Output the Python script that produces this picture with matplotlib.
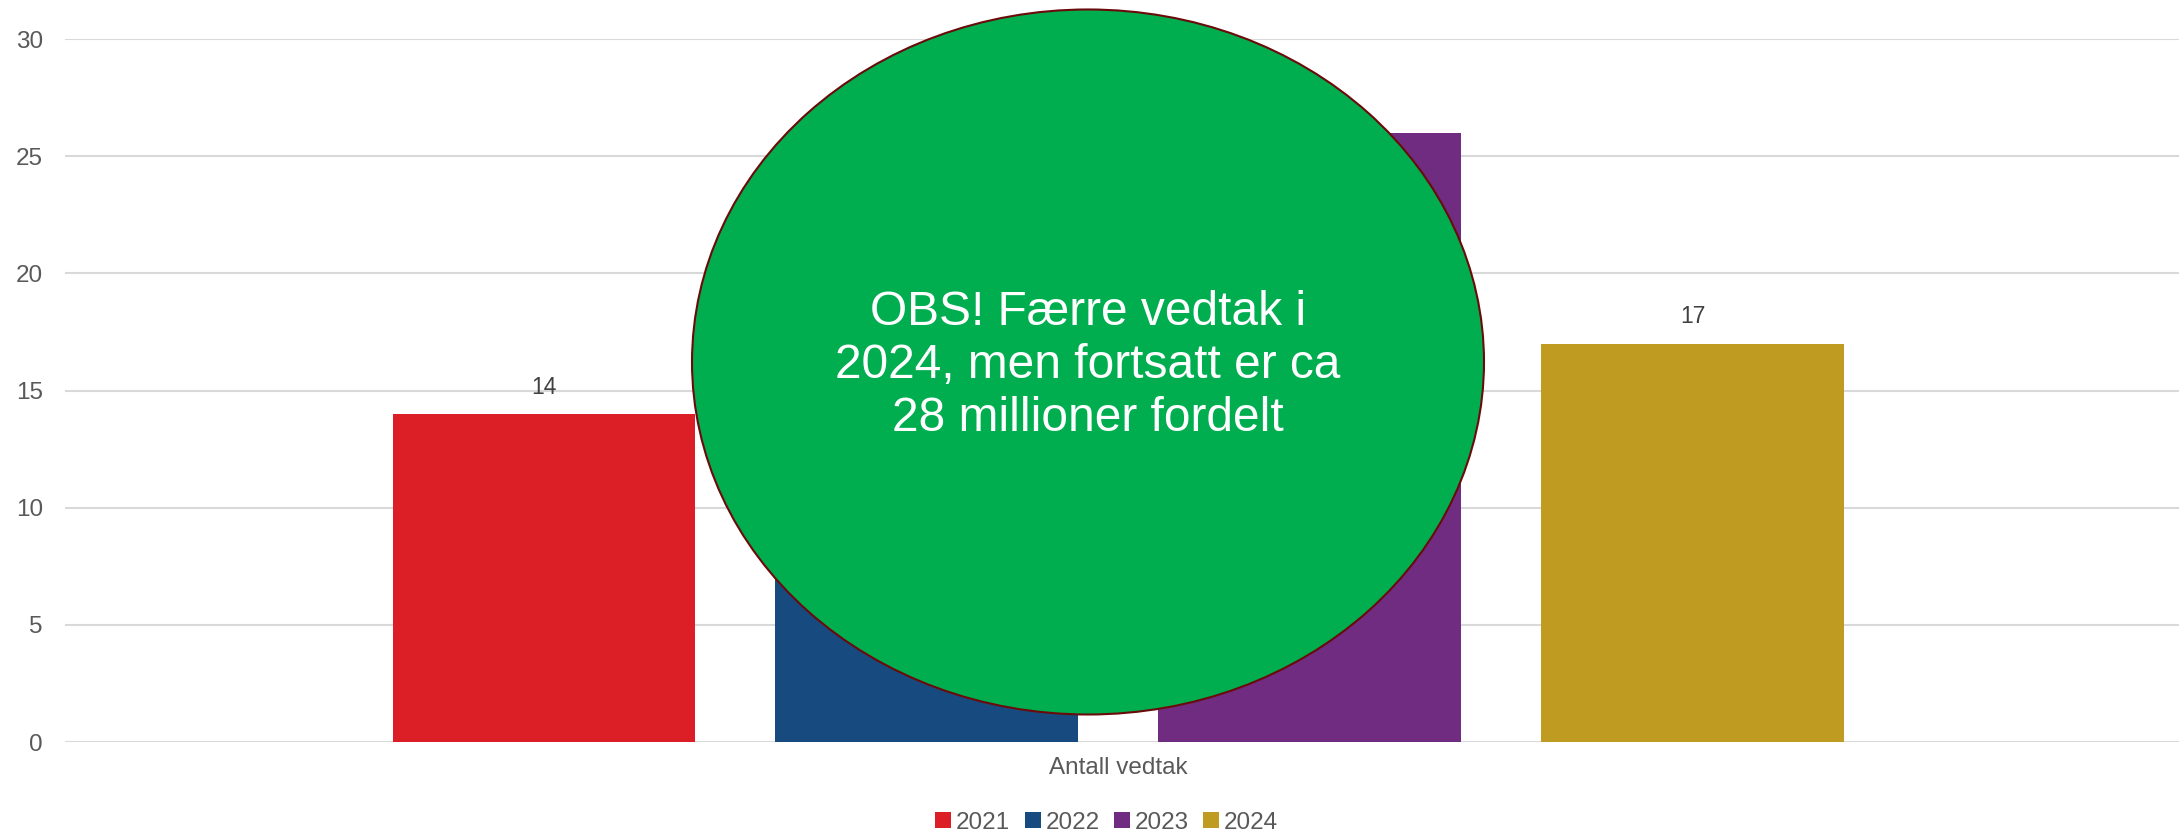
import matplotlib
matplotlib.use('Agg')
import numpy as np
from matplotlib import pyplot as plt
from matplotlib.patches import Ellipse

plt.rcParams['font.family'] = ['Liberation Sans', 'DejaVu Sans']

# data
category = 'Antall vedtak'
years = ['2021', '2022', '2023', '2024']
values = [14, 20, 26, 17]
colors = ['#DC1F26', '#174B7F', '#6F2C81', '#BF9B22']
note = 'OBS! Færre vedtak i\n2024, men fortsatt er ca\n28 millioner fordelt'

fig = plt.figure(figsize=(21.83, 8.36), dpi=100)
ax = fig.add_axes([0.0298, 0.1124, 0.9684, 0.8409])

step = 1.264
for i, (yr, v, c) in enumerate(zip(years, values, colors)):
	x = (i - 1.5) * step
	ax.bar(x, v, width=1.0, color=c, label=yr, zorder=2)
	ax.annotate(str(v), (x, v), xytext=(0, 11), textcoords='offset points',
				ha='center', va='bottom', fontsize=16.5, color='#404040')

ax.set_xlim(-3.4775, 3.5025)
ax.set_ylim(0, 30)
ax.set_yticks(np.arange(0, 31, 5))
ax.set_xticks([0])
ax.set_xticklabels([category])
ax.tick_params(axis='both', length=0, labelsize=17.5, colors='#595959', pad=11)
ax.tick_params(axis='y', pad=16)
ax.grid(axis='y', color='#D9D9D9', linewidth=1.5, zorder=0)
for s in ax.spines.values():
	s.set_visible(False)

# green callout on top
ell = Ellipse((0.4984, 0.567), 0.3628, 0.8433, transform=fig.transFigure,
			  facecolor='#00AE4F', edgecolor='#6B0A0A', linewidth=1.5, zorder=5)
fig.patches.append(ell)
fig.text(0.4984, 0.563, note, ha='center', va='center', fontsize=34.5,
		 color='white', linespacing=1.22, zorder=6)

fig.legend(loc='center', bbox_to_anchor=(0.507, 0.016), ncol=4, frameon=False,
		   fontsize=17.5, handlelength=0.65, handleheight=0.65, handletextpad=0.2,
		   columnspacing=0.6, labelcolor='#595959')

fig.savefig('out.png', dpi=100)
